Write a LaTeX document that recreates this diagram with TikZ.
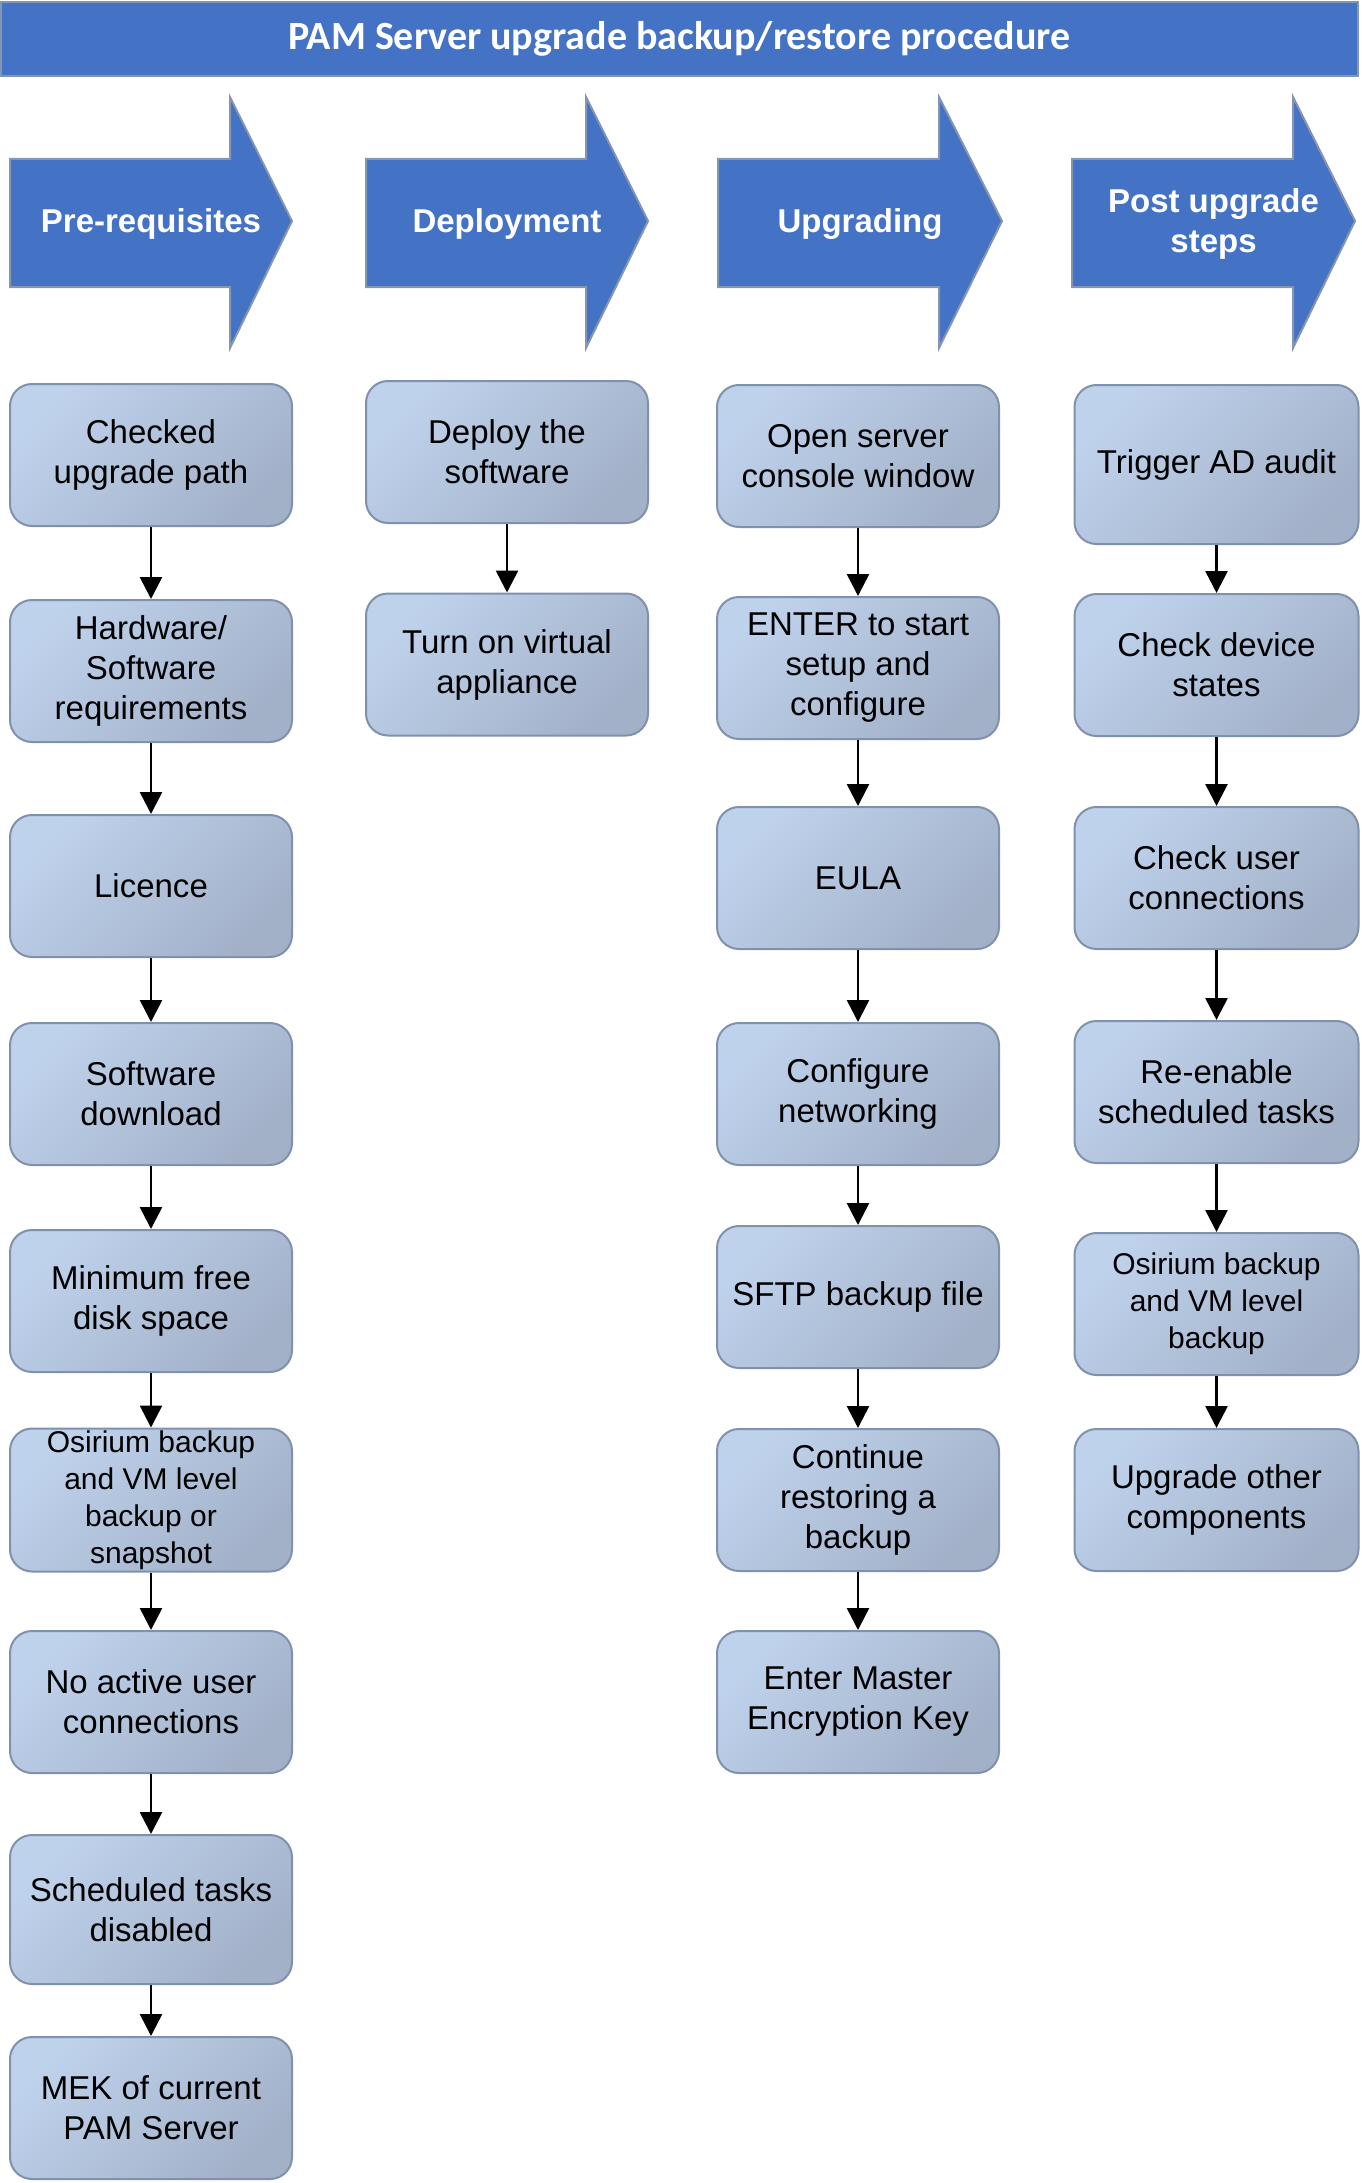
\documentclass[tikz,border=0pt]{standalone}
\usepackage{fontspec}
\setmainfont{Liberation Sans}
\newfontfamily\headfont{Carlito}
\usetikzlibrary{arrows.meta}
\definecolor{phaseblue}{HTML}{4472C4}
\definecolor{phaseline}{HTML}{8496B0}
\definecolor{boxlight}{HTML}{BFD2EC}
\definecolor{boxdark}{HTML}{A2B1C8}
\definecolor{boxline}{HTML}{7F91AC}

\begin{document}
\begin{tikzpicture} [
				x=1pt, y=-1pt,
				titlebar/.style={draw=phaseline, line width=1.5pt, fill=phaseblue, text=white, minimum width=1357pt, minimum height=74pt, inner sep=0pt, font=\headfont\bfseries\fontsize{40}{48}\selectfont},
				phase/.style={draw=phaseline, line width=2pt, fill=phaseblue},
				phaselabel/.style={text=white, align=center, inner sep=0pt, font=\bfseries\fontsize{33}{40}\selectfont},
				stepbox/.style={draw=boxline, line width=2pt, rounded corners=22pt, top color=boxlight, bottom color=boxdark, shading angle=45, minimum width=282pt, minimum height=142pt, inner sep=2pt, align=center, font=\fontsize{33}{40}\selectfont},
				smalltext/.style={font=\fontsize{30}{37}\selectfont},
				flow/.style={-{Triangle[width=22pt,length=22pt]}, line width=2.6pt}
			]
			\useasboundingbox (0,0) rectangle (1361,2183);

			\node[titlebar] (title) at (679.5,39) {\raisebox{-2pt}{PAM Server upgrade backup/restore procedure}};

			% phase arrows
			\foreach \xa/\xb/\xc/\nm/\txt in {10/230/292/prereq/Pre-requisites, 366/586/648/deploy/Deployment, 718/939/1002/upgr/Upgrading, 1072/1293/1355/post/{Post upgrade\\steps}} {
				\draw[phase] (\xa,159) -- (\xb,159) -- (\xb,97) -- (\xc,221) -- (\xb,348) -- (\xb,287) -- (\xa,287) -- cycle;
				\node[phaselabel] (\nm) at ({(\xa+\xc)/2},224) {\txt};
			}

			% pre-requisites
			\node[stepbox] (chk) at (151,455) {Checked\\upgrade path};
			\node[stepbox] (hwsw) at (151,671) {Hardware/\\Software\\requirements};
			\node[stepbox] (lic) at (151,886) {Licence};
			\node[stepbox] (swdl) at (151,1094) {Software\\download};
			\node[stepbox] (disk) at (151,1301) {Minimum free\\disk space};
			\node[stepbox, smalltext] (bkp) at (151,1500) {Osirium backup\\and VM level\\backup or\\snapshot};
			\node[stepbox] (users) at (151,1702) {No active user\\connections};
			\node[stepbox, minimum height=149pt] (tasks) at (151,1909.5) {Scheduled tasks\\disabled};
			\node[stepbox] (mek) at (151,2108) {MEK of current\\PAM Server};

			% deployment
			\node[stepbox] (dep) at (507,452) {Deploy the\\software};
			\node[stepbox] (vapp) at (507,664.5) {Turn on virtual\\appliance};

			% upgrading
			\node[stepbox] (console) at (858,456) {Open server\\console window};
			\node[stepbox] (enter) at (858,668) {ENTER to start\\setup and\\configure};
			\node[stepbox] (eula) at (858,878) {EULA};
			\node[stepbox] (net) at (858,1094) {Configure\\networking};
			\node[stepbox] (sftp) at (858,1297) {SFTP backup file};
			\node[stepbox] (restore) at (858,1500) {Continue\\restoring a\\backup};
			\node[stepbox] (mekey) at (858,1702) {Enter Master\\Encryption Key};

			% post upgrade steps
			\node[stepbox, minimum width=284pt, minimum height=159pt] (adaudit) at (1216.5,464.5) {Trigger AD audit};
			\node[stepbox, minimum width=284pt] (devices) at (1216.5,665) {Check device\\states};
			\node[stepbox, minimum width=284pt] (conns) at (1216.5,878) {Check user\\connections};
			\node[stepbox, minimum width=284pt] (reenable) at (1216.5,1092) {Re-enable\\scheduled tasks};
			\node[stepbox, minimum width=284pt, smalltext] (postbkp) at (1216.5,1304) {Osirium backup\\and VM level\\backup};
			\node[stepbox, minimum width=284pt] (others) at (1216.5,1500) {Upgrade other\\components};

			\foreach \a/\b in {chk/hwsw, hwsw/lic, lic/swdl, swdl/disk, disk/bkp, bkp/users, users/tasks, tasks/mek, dep/vapp, console/enter, enter/eula, eula/net, net/sftp, sftp/restore, restore/mekey, adaudit/devices, devices/conns, conns/reenable, reenable/postbkp, postbkp/others}
				\draw[flow] (\a) -- (\b);
		\end{tikzpicture}
\end{document}
